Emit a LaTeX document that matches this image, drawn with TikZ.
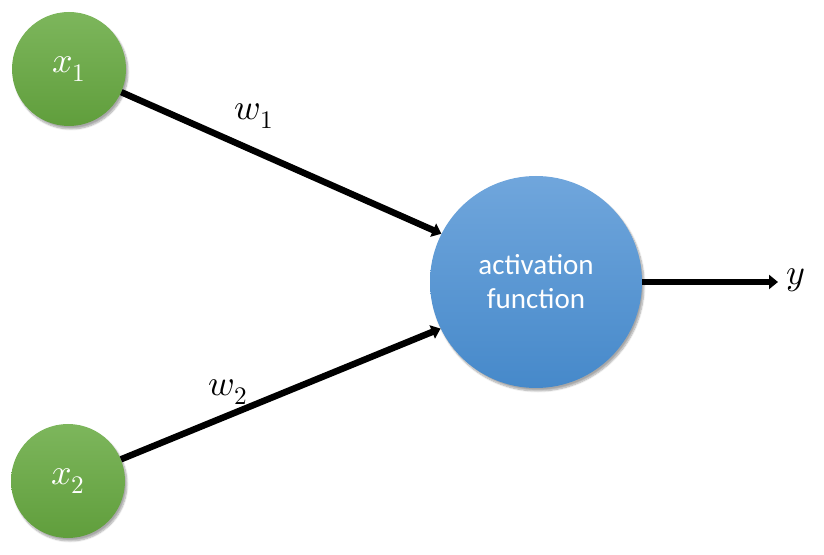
\documentclass[tikz,border=0pt]{standalone}
\usepackage{fontspec}
\usepackage{unicode-math}
\setmathfont{Latin Modern Math}
\newfontfamily\calib{Carlito}
\usetikzlibrary{arrows.meta,shadows.blur}
\definecolor{gtop}{RGB}{125,182,92}
\definecolor{gbot}{RGB}{96,158,60}
\definecolor{btop}{RGB}{112,166,220}
\definecolor{bbot}{RGB}{70,137,202}
\tikzset{
  inputnode/.style={circle,minimum size=114pt,inner sep=0pt,top color=gtop,bottom color=gbot,
     blur shadow={shadow xshift=2pt,shadow yshift=-3pt,shadow blur steps=8,shadow opacity=35},
     text=white,font=\fontsize{36}{42}\selectfont},
  actnode/.style={circle,minimum size=212pt,inner sep=0pt,top color=btop,bottom color=bbot,
     blur shadow={shadow xshift=2pt,shadow yshift=-3pt,shadow blur steps=8,shadow opacity=35},
     text=white,align=center,font=\calib\fontsize{29}{34}\selectfont},
  conn/.style={line width=6.5pt,-{Triangle[length=9pt,width=14pt]}},
  lbl/.style={font=\fontsize{36}{42}\selectfont,inner sep=0pt}
}
\begin{document}
\begin{tikzpicture}[x=1pt,y=1pt]
\useasboundingbox (0,0) rectangle (824,554);
\node[actnode] (act) at (536,272) {activation\\function};
\node[inputnode] (x1) at (69,485) {$x_1$};
\node[inputnode] (x2) at (68,73) {$x_2$};
\node[lbl] (w1) at (254,438) {$w_1$};
\node[lbl] (w2) at (228,162) {$w_2$};
\node[lbl,anchor=west] (y) at (786,274) {$y$};
\coordinate (yend) at (778,272);
\draw[conn] (x1) -- (act.153.4);
\draw[conn] (x2) -- (act.206.6);
\draw[conn] (act.east) -- (yend);
\end{tikzpicture}
\end{document}
